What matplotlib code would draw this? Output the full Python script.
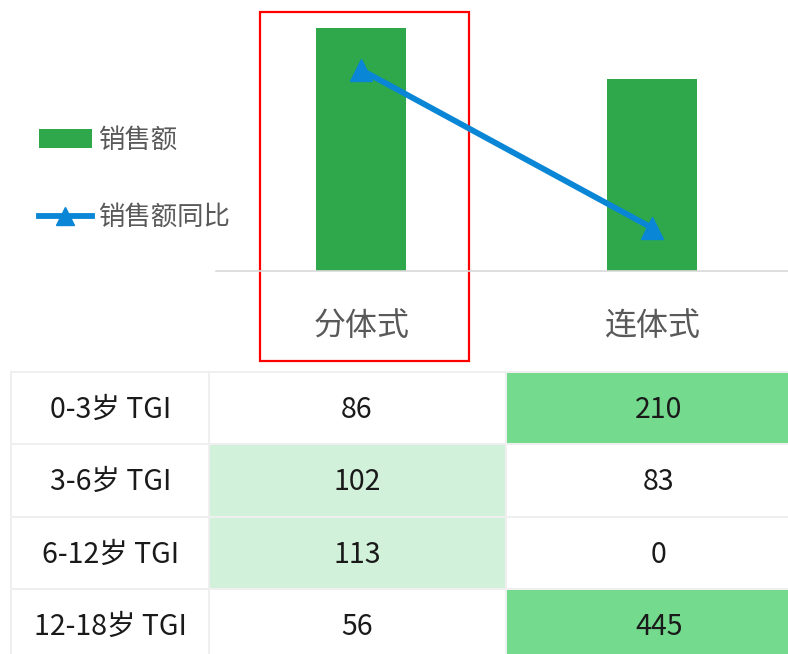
import matplotlib
matplotlib.use("Agg")
import matplotlib.pyplot as plt
from matplotlib.patches import Rectangle
from matplotlib.lines import Line2D

plt.rcParams['font.family'] = ['Noto Sans CJK SC', 'DejaVu Sans']

# ---- data ----
categories = ["分体式", "连体式"]
sales = [931, 736]            # 销售额 (relative)
yoy = [0.57, -0.035]          # 销售额同比
row_labels = ["0-3岁 TGI", "3-6岁 TGI", "6-12岁 TGI", "12-18岁 TGI"]
tgi_split = [86, 102, 113, 56]
tgi_onepiece = [210, 83, 0, 445]

BAR_C = "#2EA84A"
LINE_C = "#0A86D6"
TXT_GRAY = "#595959"

W, H = 788, 654
fig = plt.figure(figsize=(W / 100, H / 100), dpi=100)

# overlay axes in pixel coordinates (table, highlight box)
ov = fig.add_axes([0, 0, 1, 1])
ov.set_xlim(0, W)
ov.set_ylim(H, 0)
ov.axis("off")

# ---- chart axes ----
left_px, right_px = 216, 797.5
base_px, top_px = 271, 10
ax = fig.add_axes([left_px / W, (H - base_px) / H, (right_px - left_px) / W, (base_px - top_px) / H])
ax.set_xlim(-0.5, 1.5)
ax.set_ylim(0, 1000)
x = list(range(len(categories)))
bars = ax.bar(x, sales, width=0.31, color=BAR_C, zorder=2, label="销售额")
for s in ["left", "right", "top"]:
    ax.spines[s].set_visible(False)
ax.spines["bottom"].set_color("#D9D9D9")
ax.spines["bottom"].set_linewidth(1.2)
ax.set_yticks([])
ax.set_xticks(x)
ax.set_xticklabels(categories, fontsize=23, color=TXT_GRAY)
ax.tick_params(axis="x", length=0, pad=28)
ax.patch.set_alpha(0)

ax2 = ax.twinx()
ax2.set_ylim(-0.2, 0.8)
ax2.axis("off")
line, = ax2.plot(x, yoy, color=LINE_C, linewidth=4.2, marker="^", markersize=16,
                 zorder=3, label="销售额同比")

# legend
leg = fig.legend(handles=[bars, Line2D([], [], color=LINE_C, linewidth=4.2, marker="^", markersize=13)],
                 labels=["销售额", "销售额同比"],
                 loc="center left", bbox_to_anchor=(15 / W, (H - 179) / H),
                 frameon=False, labelcolor=TXT_GRAY,
                 handlelength=2.0, handletextpad=0.25, labelspacing=1.9,
                 prop={"size": 19})

# highlight box
ov.add_patch(Rectangle((260, 12), 209, 349, fill=False, edgecolor="#FF0000", linewidth=1.6, zorder=5))

# ---- table ----
def tgi_color(v):
    if v > 150:
        return "#74DA8D"
    if v > 100:
        return "#D1F1DA"
    return "white"

col_edges = [(12, 208.5), (210.5, 505.5), (507.5, 812)]
row_top0, row_h, row_gap = 372.5, 70.5, 2.0
ov.add_patch(Rectangle((10, 370.5), 810, 300, facecolor="#EFEFEF", edgecolor="none", zorder=1))
for i, lab in enumerate(row_labels):
    y0 = row_top0 + i * (row_h + row_gap)
    vals = [None, tgi_split[i], tgi_onepiece[i]]
    for j, (xa, xb) in enumerate(col_edges):
        fc = "white" if vals[j] is None else tgi_color(vals[j])
        ov.add_patch(Rectangle((xa, y0), xb - xa, row_h, facecolor=fc, edgecolor="none", zorder=2))
        txt = lab if j == 0 else str(vals[j])
        ov.text((xa + xb) / 2 - (0 if j == 0 else 1), y0 + row_h / 2 + 2, txt, ha="center", va="center",
                fontsize=20.5, color="#1A1A1A", zorder=3)

fig.savefig("out.png", dpi=100)
